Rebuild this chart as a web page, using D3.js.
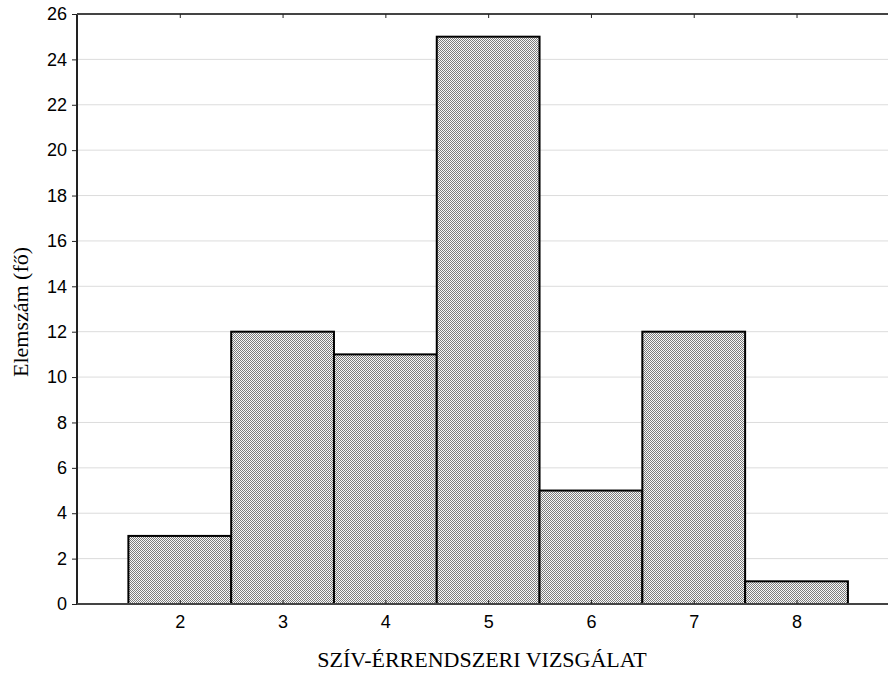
<!DOCTYPE html>
<html>
<head>
<meta charset="utf-8">
<script src="https://cdn.jsdelivr.net/npm/d3@7"></script>
<style>
  body { margin: 0; background: #fff; }
  svg { display: block; }
</style>
</head>
<body>
<svg id="chart" width="889" height="675"></svg>
<script>
const categories = [2, 3, 4, 5, 6, 7, 8];
const counts = [3, 12, 11, 25, 5, 12, 1];
const yTicks = [0, 2, 4, 6, 8, 10, 12, 14, 16, 18, 20, 22, 24, 26];
const xTitle = "SZÍV-ÉRRENDSZERI VIZSGÁLAT";
const yTitle = "Elemszám (fő)";

const svg = d3.select("#chart");
const plotLeft = 77, plotRight = 888, plotTop = 14, plotBottom = 604;

// pöttyös kitöltés
const defs = svg.append("defs");
const pat = defs.append("pattern")
  .attr("id", "checker")
  .attr("width", 2).attr("height", 2)
  .attr("patternUnits", "userSpaceOnUse");
pat.append("rect").attr("width", 2).attr("height", 2).attr("fill", "#f8f8f8");
pat.append("rect").attr("x", 0).attr("y", 0).attr("width", 1).attr("height", 1).attr("fill", "#7c7c7c");
pat.append("rect").attr("x", 1).attr("y", 1).attr("width", 1).attr("height", 1).attr("fill", "#7c7c7c");

const x = d3.scaleLinear().domain([1, 8.89]).range([plotLeft, plotRight]);
const y = d3.scaleLinear().domain([0, 26]).range([plotBottom, plotTop]);

// rácsvonalak
svg.append("g")
  .selectAll("line")
  .data(yTicks.filter(t => t > 0 && t < 26))
  .join("line")
  .attr("x1", plotLeft).attr("x2", plotRight)
  .attr("y1", d => y(d)).attr("y2", d => y(d))
  .attr("stroke", "#dcdcdc")
  .attr("stroke-width", 1);

// oszlopok
svg.append("g")
  .selectAll("rect")
  .data(categories)
  .join("rect")
  .attr("x", (d) => x(d - 0.5))
  .attr("y", (d, i) => y(counts[i]))
  .attr("width", d => x(d + 0.5) - x(d - 0.5))
  .attr("height", (d, i) => y(0) - y(counts[i]))
  .attr("fill", "url(#checker)")
  .attr("stroke", "#000")
  .attr("stroke-width", 2);

// tengelyek
const yAxis = d3.axisLeft(y).tickValues(yTicks).tickSize(5).tickPadding(5);
const gy = svg.append("g").attr("transform", `translate(${plotLeft},0)`).call(yAxis);
gy.select(".domain").attr("stroke", "#222").attr("stroke-width", 2).attr("d", `M0,${plotTop}V${plotBottom}`);
gy.selectAll(".tick line").attr("stroke", "#222");
gy.selectAll("text")
  .style("font-family", "Liberation Sans, Arial, sans-serif")
  .style("font-size", "18px")
  .attr("fill", "#000");

const xAxis = d3.axisBottom(x).tickValues(categories).tickSize(-4).tickPadding(11).tickFormat(d3.format("d"));
const gx = svg.append("g").attr("transform", `translate(0,${plotBottom})`).call(xAxis);
gx.select(".domain").attr("stroke", "#444").attr("stroke-width", 2).attr("d", `M${plotLeft},0H${plotRight}`);
gx.selectAll(".tick line").attr("stroke", "#222");
gx.selectAll("text")
  .style("font-family", "Liberation Sans, Arial, sans-serif")
  .style("font-size", "18px")
  .attr("fill", "#000");

const xTop = d3.axisTop(x).tickValues(categories).tickSize(-4).tickFormat("");
const gt = svg.append("g").attr("transform", `translate(0,${plotTop})`).call(xTop);
gt.select(".domain").attr("stroke", "#444").attr("stroke-width", 2).attr("d", `M${plotLeft},0H${plotRight}`);
gt.selectAll(".tick line").attr("stroke", "#222");

// feliratok
svg.append("text")
  .attr("x", 482)
  .attr("y", 667)
  .attr("text-anchor", "middle")
  .attr("font-family", "Liberation Serif, Times New Roman, serif")
  .attr("font-size", "22px")
  .text(xTitle);

svg.append("text")
  .attr("transform", `translate(28,312) rotate(-90)`)
  .attr("text-anchor", "middle")
  .attr("font-family", "Liberation Serif, Times New Roman, serif")
  .attr("font-size", "22px")
  .text(yTitle);
</script>
</body>
</html>
